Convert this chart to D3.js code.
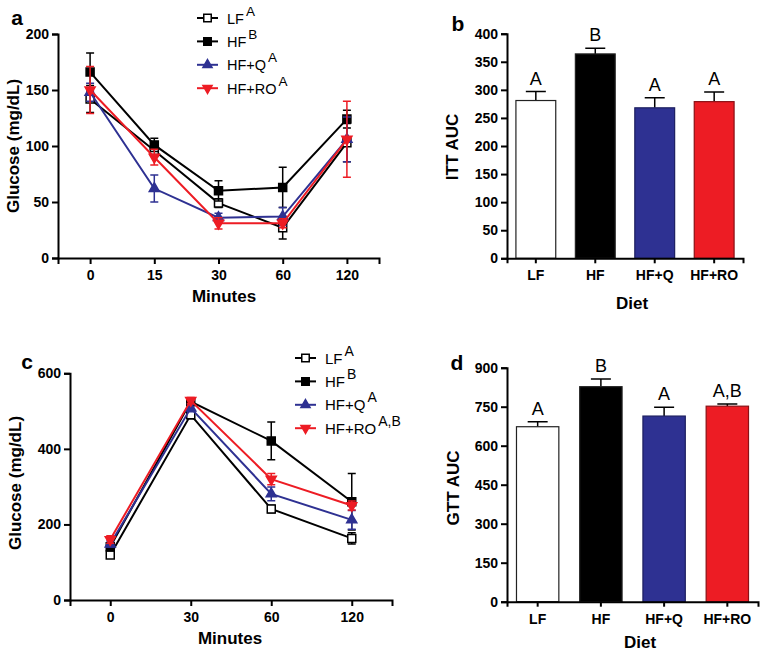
<!DOCTYPE html>
<html>
<head>
<meta charset="utf-8">
<script src="https://cdn.jsdelivr.net/npm/d3@7"></script>
<style>
  body { margin: 0; background: #fff; }
  svg { font-family: Arial, "Liberation Sans", sans-serif; }
</style>
</head>
<body>
<div id="chart"></div>
<script>
// Insulin (ITT) and glucose (GTT) tolerance tests, four diets

const groups = ["LF", "HF", "HF+Q", "HF+RO"];
const colors = ["#000", "#000", "#2E3192", "#ED1C24"];

// panel a: ITT time course
const ittTimes = ["0", "15", "30", "60", "120"];
const ittLF = [142, 96, 49, 27, 103];
const ittLFErr = [12, 5, 4, 10, 17];
const ittHF = [166, 101, 60, 63, 124];
const ittHFErr = [17, 6, 9, 18, 8];
const ittQ = [148, 62, 36, 37, 106];
const ittQErr = [8, 12, 4, 8, 20];
const ittRO = [150, 90, 31, 31, 106];
const ittROErr = [21, 7, 5, 4, 34];
const ittSup = ["A", "B", "A", "A"];
const ittTicks = [0, 50, 100, 150, 200];

// panel b: ITT AUC
const ittAUC = [281, 364, 268, 279];
const ittAUCErr = [16, 10, 18, 17];
const ittLetters = ["A", "B", "A", "A"];
const ittAUCTicks = [0, 50, 100, 150, 200, 250, 300, 350, 400];

// panel c: GTT time course
const gttTimes = ["0", "30", "60", "120"];
const gttLF = [119, 490, 241, 163];
const gttLFErr = [8, 10, 10, 15];
const gttHF = [141, 525, 421, 260];
const gttHFErr = [10, 8, 50, 75];
const gttQ = [148, 508, 281, 212];
const gttQErr = [8, 10, 18, 25];
const gttRO = [160, 528, 320, 250];
const gttROErr = [10, 8, 15, 12];
const gttSup = ["A", "B", "A", "A,B"];
const gttTicks = [0, 200, 400, 600];

// panel d: GTT AUC
const gttAUC = [673, 827, 714, 752];
const gttAUCErr = [19, 30, 34, 8];
const gttLetters = ["A", "B", "A", "A,B"];
const gttAUCTicks = [0, 150, 300, 450, 600, 750, 900];

const width = 767, height = 654;

let svg = d3.select("#chart")
    .append("svg")
    .attr("width", width)
    .attr("height", height)
    .attr("viewBox", [0, 0, width, height]);

function styleAxis(g) {
    g.select(".domain").attr("stroke-width", 2);
    g.selectAll(".tick line").attr("stroke-width", 2);
    g.selectAll(".tick text")
        .attr("font-size", 14)
        .attr("font-weight", "bold")
        .attr("fill", "#000");
}

function marker(sel, i, size) {
    const shape = i < 2 ? d3.symbolSquare : d3.symbolTriangle;
    sel.attr("d", d3.symbol().type(shape).size(size));
    if (i === 3) sel.attr("transform", sel.attr("transform") + " rotate(180)");
    sel.attr("fill", i === 0 ? "#fff" : colors[i])
        .attr("stroke", colors[i])
        .attr("stroke-width", 1.5);
}

function labels(o) {
    svg.append("text")
        .attr("x", o.tx).attr("y", o.ty)
        .attr("text-anchor", "middle")
        .attr("font-size", 17).attr("font-weight", "bold")
        .text(o.xTitle);
    svg.append("text")
        .attr("transform", `translate(${o.lx},${o.ly}) rotate(-90)`)
        .attr("text-anchor", "middle")
        .attr("dominant-baseline", "central")
        .attr("font-size", 17).attr("font-weight", "bold")
        .text(o.yTitle);
    svg.append("text")
        .attr("x", o.px).attr("y", o.py)
        .attr("text-anchor", "middle")
        .attr("font-size", 21).attr("font-weight", "bold")
        .text(o.panel);
}

// line chart with error bars
function linePanel(o) {
    const x = d3.scalePoint()
        .domain(o.times)
        .range(o.xr)
        .padding(0.5);
    const y = d3.scaleLinear()
        .domain([0, d3.max(o.ticks)])
        .range(o.yr);

    svg.append("g")
        .attr("transform", `translate(0,${o.yr[0]})`)
        .call(d3.axisBottom(x).tickSize(6).tickPadding(6))
        .call(styleAxis);
    svg.append("g")
        .attr("transform", `translate(${o.xr[0]},0)`)
        .call(d3.axisLeft(y).tickValues(o.ticks).tickSize(6).tickPadding(3))
        .call(styleAxis);

    const line = d3.line()
        .x((d, j) => x(o.times[j]))
        .y(d => y(d));

    o.series.forEach((s, i) => {
        let g = svg.append("g");
        g.append("path")
            .datum(s)
            .attr("fill", "none")
            .attr("stroke", colors[i])
            .attr("stroke-width", 2)
            .attr("d", line);
        s.forEach((v, j) => {
            const cx = x(o.times[j]), e = o.errs[i][j];
            const path = d3.path();
            path.moveTo(cx, y(v - e)); path.lineTo(cx, y(v + e));
            path.moveTo(cx - 4, y(v + e)); path.lineTo(cx + 4, y(v + e));
            path.moveTo(cx - 4, y(v - e)); path.lineTo(cx + 4, y(v - e));
            g.append("path")
                .attr("d", path.toString())
                .attr("stroke", colors[i])
                .attr("stroke-width", 1.5)
                .attr("fill", "none");
        });
        s.forEach((v, j) => {
            g.append("path")
                .attr("transform", `translate(${x(o.times[j])},${y(v)})`)
                .call(marker, i, i < 2 ? 64 : 44);
        });
    });

    // legend
    groups.forEach((name, i) => {
        const ly = o.legY + i * 23.4;
        svg.append("line")
            .attr("x1", o.legX).attr("x2", o.legX + 21)
            .attr("y1", ly).attr("y2", ly)
            .attr("stroke", colors[i]).attr("stroke-width", 2);
        svg.append("path")
            .attr("transform", `translate(${o.legX + 10.5},${ly})`)
            .call(marker, i, i < 2 ? 56 : 36);
        let t = svg.append("text")
            .attr("x", o.legX + 30).attr("y", ly + 5.5)
            .attr("font-size", o.legFont);
        t.append("tspan").text(name);
        t.append("tspan")
            .attr("dx", 2).attr("dy", -8)
            .attr("font-size", o.legFont - 1)
            .text(o.sup[i]);
    });

    labels(o);
}

// bar chart with upward error bars and letters
function barPanel(o) {
    const x = d3.scaleBand()
        .domain(groups)
        .range(o.xr)
        .paddingInner(0.33)
        .paddingOuter(0.15);
    const y = d3.scaleLinear()
        .domain([0, d3.max(o.ticks)])
        .range(o.yr);

    let bar = svg.selectAll(null)
        .data(o.values)
        .join("g");

    bar.append("path")
        .attr("d", (d, i) => {
            const cx = x(groups[i]) + x.bandwidth() / 2, top = y(d + o.errs[i]);
            return `M${cx},${y(d)}V${top}M${cx - 10},${top}H${cx + 10}`;
        })
        .attr("stroke", "#000")
        .attr("stroke-width", 1.5)
        .attr("fill", "none");

    bar.append("rect")
        .attr("x", (d, i) => x(groups[i]))
        .attr("width", x.bandwidth())
        .attr("y", d => y(d))
        .attr("height", d => y(0) - y(d))
        .attr("fill", (d, i) => i === 0 ? "#fff" : colors[i])
        .attr("stroke", (d, i) => i === 2 ? "#1d1f60" : (i === 3 ? "#8a1015" : "#222"))
        .attr("stroke-width", 1.2);

    bar.append("text")
        .text((d, i) => o.letters[i])
        .attr("x", (d, i) => x(groups[i]) + x.bandwidth() / 2)
        .attr("y", (d, i) => y(d + o.errs[i]) - 7)
        .attr("text-anchor", "middle")
        .attr("font-size", 18);

    svg.append("g")
        .attr("transform", `translate(0,${o.yr[0]})`)
        .call(d3.axisBottom(x).tickSize(5).tickPadding(7))
        .call(styleAxis);
    svg.append("g")
        .attr("transform", `translate(${o.xr[0]},0)`)
        .call(d3.axisLeft(y).tickValues(o.ticks).tickSize(6).tickPadding(3))
        .call(styleAxis);

    labels(o);
}

linePanel({
    times: ittTimes, ticks: ittTicks, xr: [58, 379], yr: [258, 34],
    series: [ittLF, ittHF, ittQ, ittRO],
    errs: [ittLFErr, ittHFErr, ittQErr, ittROErr],
    sup: ittSup, legX: 197, legY: 18, legFont: 14.5,
    xTitle: "Minutes", tx: 224, ty: 302,
    yTitle: "Glucose (mg/dL)", lx: 13, ly: 146,
    panel: "a", px: 17, py: 25
});

barPanel({
    values: ittAUC, errs: ittAUCErr, letters: ittLetters, ticks: ittAUCTicks,
    xr: [507, 743], yr: [258.3, 33.7],
    xTitle: "Diet", tx: 632, ty: 309,
    yTitle: "ITT AUC", lx: 452, ly: 147,
    panel: "b", px: 458, py: 31
});

linePanel({
    times: gttTimes, ticks: gttTicks, xr: [70, 392], yr: [600, 373.3],
    series: [gttLF, gttHF, gttQ, gttRO],
    errs: [gttLFErr, gttHFErr, gttQErr, gttROErr],
    sup: gttSup, legX: 295, legY: 358, legFont: 15,
    xTitle: "Minutes", tx: 230, ty: 644,
    yTitle: "Glucose (mg/dL)", lx: 15, ly: 483,
    panel: "c", px: 27, py: 369
});

barPanel({
    values: gttAUC, errs: gttAUCErr, letters: gttLetters, ticks: gttAUCTicks,
    xr: [507, 758], yr: [601.7, 367.7],
    xTitle: "Diet", tx: 640, ty: 648,
    yTitle: "GTT AUC", lx: 453, ly: 488,
    panel: "d", px: 457, py: 370
});
</script>
</body>
</html>
